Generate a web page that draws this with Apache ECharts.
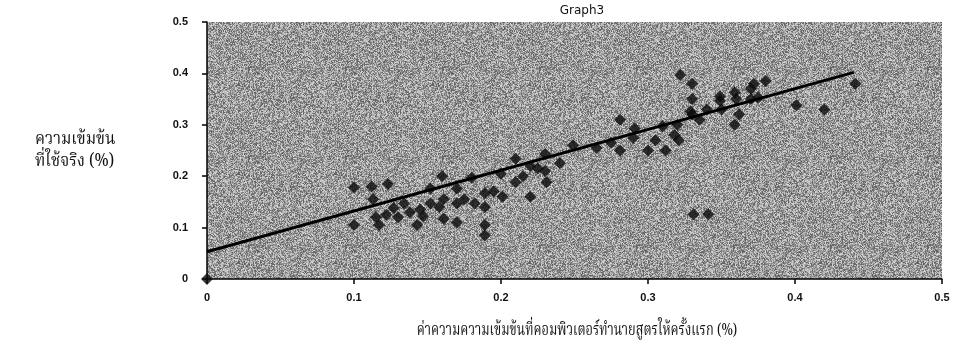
<!DOCTYPE html>
<html><head><meta charset="utf-8">
<script src="https://cdn.jsdelivr.net/npm/echarts@6/dist/echarts.min.js"></script>
<style>html,body{margin:0;padding:0;background:#fff}#c{width:956px;height:350px}</style>
</head><body><div id="c"></div>
<script>
// Scatter data (x = predicted %, y = actual %)
const xValues = [0,
  0.100, 0.100, 0.112, 0.123, 0.113, 0.115, 0.122, 0.117, 0.127, 0.134, 0.138, 0.143, 0.147,
  0.152, 0.152, 0.160, 0.161, 0.161, 0.170, 0.170, 0.170, 0.180, 0.182, 0.189, 0.189,
  0.189, 0.189, 0.200, 0.201, 0.210, 0.210, 0.220, 0.220, 0.230, 0.231, 0.230,
  0.249, 0.265, 0.281, 0.291, 0.281, 0.300, 0.310, 0.312, 0.321, 0.329, 0.331, 0.341,
  0.349, 0.359, 0.401, 0.420, 0.322, 0.330, 0.330, 0.349, 0.359, 0.372, 0.380, 0.441,
  0.375, 0.320, 0.330, 0.335, 0.340, 0.350, 0.360, 0.362, 0.370, 0.370, 0.318, 0.305,
  0.130, 0.145, 0.158, 0.175, 0.195, 0.215, 0.225, 0.240, 0.275, 0.290];
const yValues = [0,
  0.178, 0.105, 0.180, 0.185, 0.155, 0.120, 0.125, 0.105, 0.138, 0.147, 0.130, 0.105, 0.122,
  0.176, 0.147, 0.200, 0.155, 0.117, 0.176, 0.147, 0.110, 0.197, 0.147, 0.167, 0.105,
  0.140, 0.085, 0.205, 0.160, 0.234, 0.188, 0.220, 0.160, 0.243, 0.188, 0.210,
  0.260, 0.255, 0.310, 0.293, 0.250, 0.250, 0.297, 0.250, 0.270, 0.326, 0.126, 0.126,
  0.347, 0.300, 0.338, 0.330, 0.397, 0.380, 0.350, 0.355, 0.363, 0.380, 0.385, 0.380,
  0.353, 0.300, 0.320, 0.310, 0.330, 0.330, 0.350, 0.320, 0.370, 0.350, 0.280, 0.270,
  0.120, 0.135, 0.140, 0.155, 0.170, 0.200, 0.215, 0.225, 0.265, 0.275];
// Linear trendline end points
const trendX = [0, 0.44];
const trendY = [0.053, 0.402];
const xTickLabels = ['0', '0.1', '0.2', '0.3', '0.4', '0.5'];
const yTickLabels = ['0', '0.1', '0.2', '0.3', '0.4', '0.5'];
const chartTitle = 'Graph3';
const xTitle = 'ค่าความความเข้มข้นที่คอมพิวเตอร์ทำนายสูตรให้ครั้งแรก (%)';
const yTitleLines = ['ความเข้มข้น', 'ที่ใช้จริง (%)'];

// deterministic speckle texture for plot background
function makeTexture() {
  const cv = document.createElement('canvas');
  cv.width = 97; cv.height = 89;
  const ctx = cv.getContext('2d');
  const img = ctx.createImageData(cv.width, cv.height);
  let s = 12345;
  for (let i = 0; i < cv.width * cv.height; i++) {
    s = (s * 1103515245 + 12345) & 0x7fffffff;
    const r = (s >> 8) / 8388608;
    const v = Math.round(92 + r * 125);
    img.data[i*4] = v; img.data[i*4+1] = v; img.data[i*4+2] = v; img.data[i*4+3] = 255;
  }
  ctx.putImageData(img, 0, 0);
  return cv;
}

const pts = xValues.map((x, i) => [x, yValues[i]]);
const trend = trendX.map((x, i) => [x, trendY[i]]);

const chart = echarts.init(document.getElementById('c'), null, {renderer: 'canvas'});
const thaiFont = '"Noto Serif Thai","Noto Sans Thai","Loma","Garuda","Norasi","DejaVu Serif",serif';
const tickFont = {color: '#111', fontFamily: 'Liberation Sans', fontWeight: 'bold', fontSize: 11};
chart.setOption({
  animation: false,
  backgroundColor: '#ffffff',
  title: {
    text: chartTitle, left: 577, top: 0, textAlign: 'center',
    textStyle: {fontFamily: 'DejaVu Sans', fontWeight: 'normal', fontSize: 12, color: '#111'}
  },
  grid: {left: 207, top: 22, right: 14, bottom: 71, show: true, borderWidth: 0,
    backgroundColor: {image: makeTexture(), repeat: 'repeat'}},
  xAxis: {
    type: 'value', min: 0, max: 0.5, interval: 0.1,
    axisLine: {show: true, onZero: false, lineStyle: {color: '#000', width: 1.5}},
    axisTick: {show: true, inside: false, length: 5, lineStyle: {color: '#000', width: 1.5}},
    splitLine: {show: false},
    axisLabel: Object.assign({margin: 13, formatter: v => xTickLabels[Math.round(v * 10)]}, tickFont)
  },
  yAxis: {
    type: 'value', min: 0, max: 0.5, interval: 0.1,
    axisLine: {show: true, onZero: false, lineStyle: {color: '#000', width: 1.5}},
    axisTick: {show: true, inside: false, length: 5, lineStyle: {color: '#000', width: 1.5}},
    splitLine: {show: false},
    axisLabel: Object.assign({margin: 19, formatter: v => yTickLabels[Math.round(v * 10)]}, tickFont)
  },
  graphic: [
    {type: 'text', x: 35, y: 141, scaleX: 0.88, style: {text: yTitleLines[0], font: '18px ' + thaiFont, fill: '#111', textVerticalAlign: 'middle'}},
    {type: 'text', x: 35, y: 163, scaleX: 0.88, style: {text: yTitleLines[1], font: '18px ' + thaiFont, fill: '#111', textVerticalAlign: 'middle'}},
    {type: 'text', x: 577, y: 332, scaleX: 0.75, style: {text: xTitle, font: '17px ' + thaiFont, fill: '#111', textAlign: 'center', textVerticalAlign: 'middle'}}
  ],
  series: [
    {type: 'scatter', data: pts, symbol: 'diamond', symbolSize: 12,
      itemStyle: {color: '#0a0a0a'}, z: 3},
    {type: 'line', data: trend, symbol: 'none', lineStyle: {color: '#000', width: 3}, z: 4}
  ]
});
</script>
</body></html>
